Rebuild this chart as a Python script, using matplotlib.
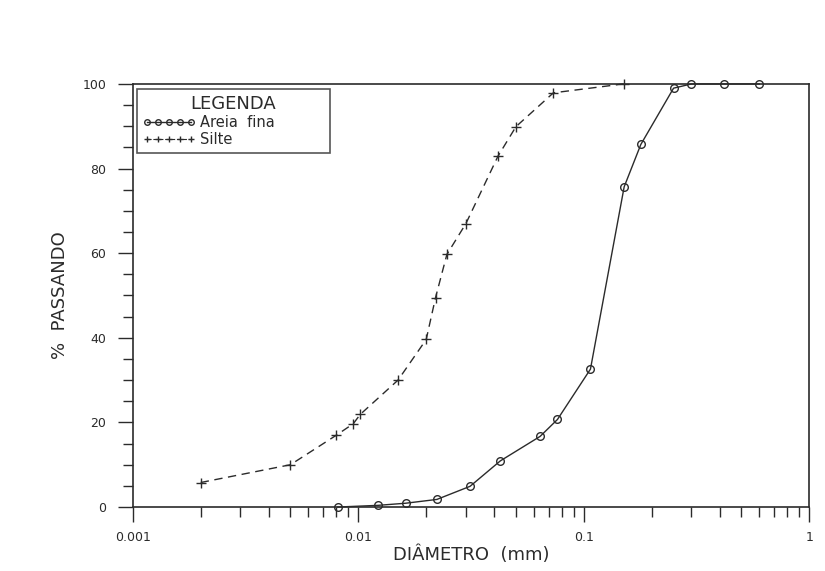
import numpy as np
import matplotlib
matplotlib.use("Agg")
import matplotlib.pyplot as plt
from matplotlib.lines import Line2D
from matplotlib.ticker import LogLocator, FixedLocator, MultipleLocator, NullFormatter

# Curvas granulometricas
areia_d = [0.0081, 0.0122, 0.0162, 0.0223, 0.0313, 0.0426, 0.064, 0.0764,
           0.107, 0.151, 0.179, 0.25, 0.30, 0.42, 0.60]
areia_p = [0.0, 0.4, 0.9, 1.8, 4.9, 10.9, 16.7, 20.7,
           32.6, 75.7, 85.7, 99.0, 100, 100, 100]

silte_d = [0.002, 0.005, 0.008, 0.0095, 0.0102, 0.015, 0.020, 0.022,
           0.0247, 0.030, 0.0416, 0.050, 0.0733, 0.15]
silte_p = [5.8, 10.0, 17.0, 19.7, 21.9, 30.0, 39.6, 49.5,
           59.7, 67.0, 82.9, 89.9, 97.9, 100]

x_ticks = [0.001, 0.01, 0.1, 1]
x_tick_labels = ["0.001", "0.01", "0.1", "1"]
y_ticks = [0, 20, 40, 60, 80, 100]

ink = "#2b2b2b"
plt.rcParams['font.family'] = ['DejaVu Sans']

fig = plt.figure(figsize=(8.25, 5.71), dpi=100)
ax = fig.add_axes([0.161, 0.112, 0.820, 0.741])

ax.plot(areia_d, areia_p, color=ink, lw=1.0, ls='-', marker='o', ms=5.5,
        mfc='none', mec=ink, mew=1.0, clip_on=False)
ax.plot(silte_d, silte_p, color=ink, lw=1.0, ls=(0, (6, 4)), marker='+', ms=6.5,
        mec=ink, mew=1.0, clip_on=False)

ax.set_xscale('log')
ax.set_xlim(0.001, 1)
ax.set_ylim(0, 100)

ax.xaxis.set_major_locator(FixedLocator(x_ticks))
ax.set_xticklabels(x_tick_labels)
ax.xaxis.set_minor_locator(LogLocator(base=10, subs=np.arange(2, 10)))
ax.xaxis.set_minor_formatter(NullFormatter())
ax.set_yticks(y_ticks)
ax.yaxis.set_minor_locator(MultipleLocator(5))

ax.tick_params(which='major', direction='out', length=11, width=1.0,
               color=ink, labelcolor=ink, labelsize=9)
ax.tick_params(axis='x', which='major', pad=6)
ax.tick_params(axis='y', which='major', pad=8)
ax.tick_params(which='minor', direction='out', length=7.5, width=1.0, color=ink)

for s in ax.spines.values():
    s.set_color(ink)
    s.set_linewidth(1.2)

ax.set_xlabel("DIÂMETRO  (mm)", fontsize=13, color=ink, labelpad=1)
ax.set_ylabel("%  PASSANDO", fontsize=13, color=ink, labelpad=10)

handles = [
    Line2D([], [], color=ink, lw=1.0, marker='o', ms=4, mfc='none', mec=ink),
    Line2D([], [], color=ink, lw=0.8, ls='--', marker='+', ms=5, mec=ink),
]
leg = ax.legend(handles, ["Areia  fina", "Silte"], title="LEGENDA",
                loc='upper left', bbox_to_anchor=(0.006, 0.837, 0.285, 0.151),
                mode='expand', numpoints=5, handlelength=3.6,
                handletextpad=0.3, fontsize=10.5, title_fontsize=13,
                fancybox=False, edgecolor=ink, borderpad=0.4,
                labelspacing=0.15, borderaxespad=0.0, alignment='center')
leg.get_frame().set_linewidth(1.2)
leg.get_title().set_color(ink)
for t in leg.get_texts():
    t.set_color(ink)

fig.savefig("out.png", dpi=100, facecolor='white')
